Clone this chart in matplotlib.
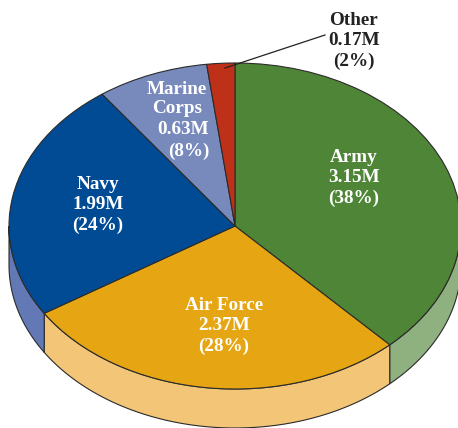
import numpy as np
import matplotlib
matplotlib.use('Agg')
import matplotlib.pyplot as plt

branches = ['Army', 'Air Force', 'Navy', 'Marine\nCorps', 'Other']
millions = ['3.15M', '2.37M', '1.99M', '0.63M', '0.17M']
percents = [38, 28, 24, 8, 2]
colors = ['#4F8536', '#E6A512', '#004B93', '#7889BC', '#BF3019']
side_colors = ['#8FB07F', '#F3C577', '#6279B5', '#A9B4D6', '#DC8A78']

# picture is squashed, so x and y get their own pixel scale
W, H = 458, 428
cx, cy, rx, ry = 235, 226, 226, 163
depth = 39 / ry
edge = '#2b2b2b'

plt.rcParams['font.family'] = ['Liberation Serif', 'DejaVu Serif']
fig = plt.figure(figsize=(W / 100, H / 100), dpi=100)
ax = fig.add_axes([0, 0, 1, 1])

wedges, _ = ax.pie(percents, colors=colors, startangle=90, counterclock=False,
                   radius=1, wedgeprops=dict(edgecolor=edge, linewidth=0.8, zorder=3))
ax.set_aspect('auto')
ax.set_xlim(-cx / rx, (W - cx) / rx)
ax.set_ylim(-(H - cy) / ry, cy / ry)

# side wall, only the front half shows
for w, c in zip(wedges, side_colors):
    a1, a2 = w.theta1 % 360, w.theta2 % 360
    if a2 <= a1:
        a2 = 360
    if a2 <= 180:
        continue
    t = np.radians(np.linspace(max(a1, 180), a2, 80))
    xs = np.cos(t)
    ys = np.sin(t)
    ax.fill(np.r_[xs, xs[::-1]], np.r_[ys, ys[::-1] - depth], facecolor=c,
            edgecolor=edge, linewidth=0.8, zorder=2)


def lab(px, py, s, color='white'):
    ax.text((px - cx) / rx, (cy - py) / ry, s, color=color, ha='center', va='center',
            fontsize=13.8, fontweight='bold', linespacing=1.22, zorder=5)


label_pos = [(354, 178), (224, 326), (98, 205), None, (354, 41)]
for i, pos in enumerate(label_pos):
    if pos is None:
        continue
    s = branches[i] + '\n' + millions[i] + '\n(' + str(percents[i]) + '%)'
    lab(pos[0], pos[1], s, '#222222' if branches[i] == 'Other' else 'white')

# Marine Corps lines step to the right in the original
lab(177, 99, branches[3])
lab(183, 130, millions[3])
lab(189, 151, '(' + str(percents[3]) + '%)')

# leader line for Other
ax.plot([(225 - cx) / rx, (325 - cx) / rx], [(cy - 68) / ry, (cy - 35) / ry],
        color='#222222', lw=0.9, zorder=5)

fig.savefig('out.png', dpi=100)
